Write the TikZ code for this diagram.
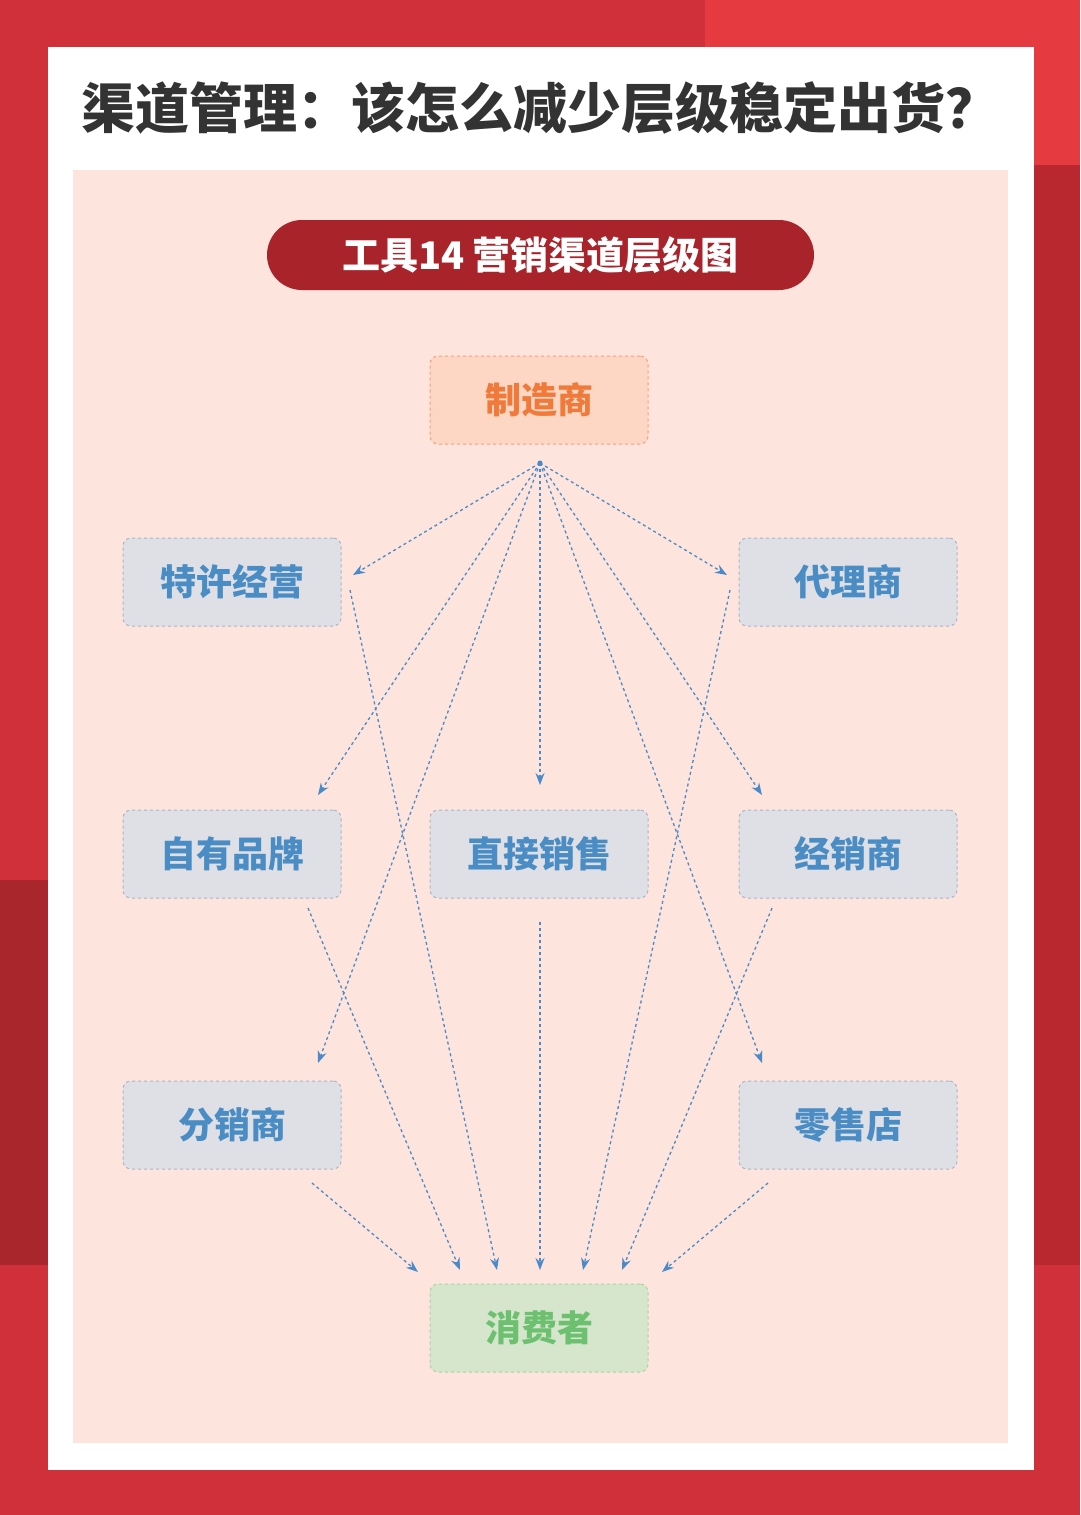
\documentclass[tikz,border=0pt]{standalone}
\usepackage{fontspec}
\setmainfont{Noto Sans CJK SC}
\usetikzlibrary{arrows.meta}
\definecolor{bgred}{HTML}{D0303A}
\definecolor{ltred}{HTML}{E53A40}
\definecolor{dkred}{HTML}{B8282E}
\definecolor{dkred2}{HTML}{A8262C}
\definecolor{pinkbg}{HTML}{FDE4DC}
\definecolor{pill}{HTML}{A8232A}
\definecolor{grayfill}{HTML}{DFE0E6}
\definecolor{grayline}{HTML}{A8B4C8}
\definecolor{bluetxt}{HTML}{4A8CC4}
\definecolor{orfill}{HTML}{FDD6C4}
\definecolor{orline}{HTML}{F5A27A}
\definecolor{ortxt}{HTML}{F07A3A}
\definecolor{grfill}{HTML}{D6E6CC}
\definecolor{grline}{HTML}{A8D4A0}
\definecolor{grtxt}{HTML}{6CC070}
\definecolor{arr}{HTML}{4A8AC8}
\begin{document}
\begin{tikzpicture}[x=1pt,y=-1pt,
 box/.style={rectangle,rounded corners=8pt,dashed,line width=1pt,minimum width=218pt,minimum height=88pt,font=\bfseries\fontsize{36}{40}\selectfont,inner sep=0pt},
 gbox/.style={box,fill=grayfill,draw=grayline,text=bluetxt},
 con/.style={arr,dashed,line width=1.3pt,-{Stealth[length=12pt,width=9pt]}}]
\useasboundingbox (0,0) rectangle (1080,1515);
\fill[bgred] (0,0) rectangle (1080,1515);
\fill[ltred] (705,0) rectangle (1080,47);
\fill[ltred] (1034,0) rectangle (1080,165);
\fill[dkred] (1034,165) rectangle (1080,1265);
\fill[dkred2] (0,880) rectangle (48,1265);
\fill[white] (48,47) rectangle (1034,1470);
\fill[pinkbg] (73,170) rectangle (1008,1443);
\node[font=\bfseries\fontsize{54}{60}\selectfont,text=black!80] (title) at (540,108) {渠道管理：该怎么减少层级稳定出货？};
\node[fill=pill,rounded corners=35pt,minimum width=547pt,minimum height=70pt,text=white,font=\bfseries\fontsize{38}{42}\selectfont] (pill) at (540.5,255) {工具14 营销渠道层级图};
\node[box,fill=orfill,draw=orline,text=ortxt] (mfr) at (539,400) {制造商};
\node[gbox] (fran) at (232,582) {特许经营};
\node[gbox] (agent) at (848,582) {代理商};
\node[gbox] (own) at (232,854) {自有品牌};
\node[gbox] (direct) at (539,854) {直接销售};
\node[gbox] (dealer) at (848,854) {经销商};
\node[gbox] (dist) at (232,1125) {分销商};
\node[gbox] (retail) at (848,1125) {零售店};
\node[box,fill=grfill,draw=grline,text=grtxt] (cons) at (539,1328) {消费者};
\coordinate (s) at (540,463);
\foreach \n/\x/\y in {a/353/575,b/318/795,c/318/1063,d/540/785,e/762/795,f/762/1063,g/727/575}
  \coordinate (t\n) at (\x,\y);
\foreach \n in {a,b,c,d,e,f,g} \draw[con] (s) -- (t\n);
\fill[arr] (s) circle (2.5pt);
\coordinate (f1) at (350,590); \coordinate (g1) at (497,1270);
\coordinate (f2) at (308,908); \coordinate (g2) at (460,1270);
\coordinate (f3) at (312,1183); \coordinate (g3) at (418,1272);
\coordinate (f4) at (540,922); \coordinate (g4) at (540,1270);
\coordinate (f5) at (730,590); \coordinate (g5) at (583,1270);
\coordinate (f6) at (772,908); \coordinate (g6) at (622,1270);
\coordinate (f7) at (768,1183); \coordinate (g7) at (662,1272);
\foreach \i in {1,...,7} \draw[con] (f\i) -- (g\i);
\end{tikzpicture}
\end{document}
